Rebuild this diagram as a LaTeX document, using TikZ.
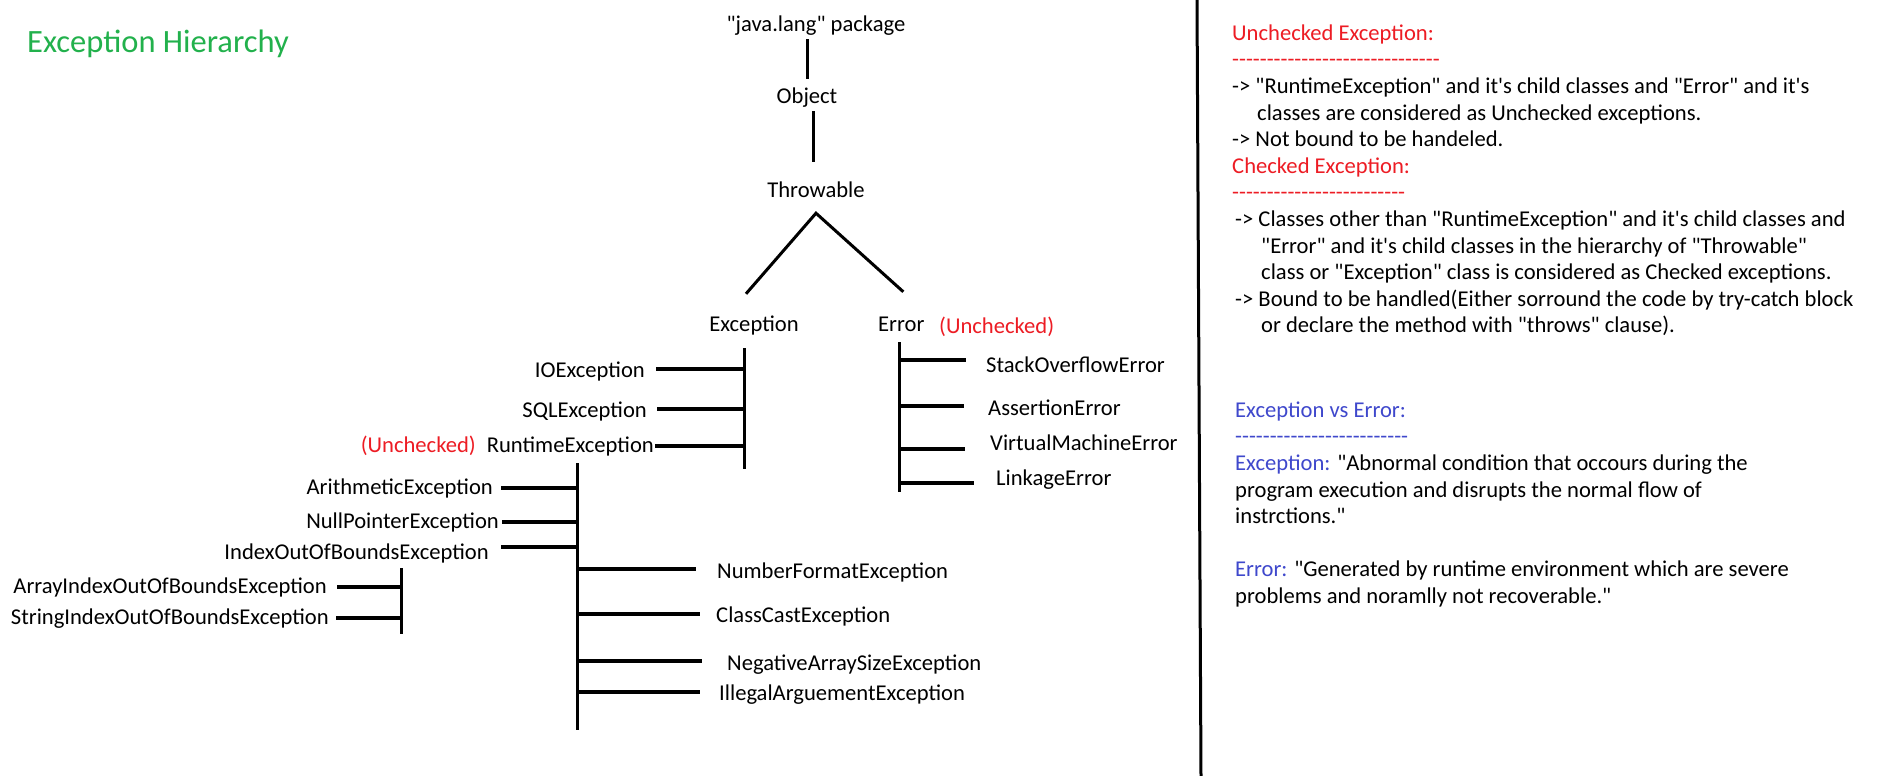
\documentclass[tikz,border=0pt]{standalone}
\usepackage{fontspec}
\setmainfont{Carlito}[Ligatures=TeXOff]

\definecolor{chkred}{HTML}{ED1C24}
\definecolor{hiergreen}{HTML}{22B14C}
\definecolor{vsblue}{HTML}{3F48CC}

\tikzset{
  cls/.style={inner sep=0pt, text height=16.5pt, text depth=3.5pt, font=\fontsize{22.6}{26.6}\selectfont},
  note/.style={inner sep=0pt, align=left, font=\fontsize{22.6}{26.6}\selectfont},
  bar/.style={line width=3pt},
  stub/.style={line width=3.5pt},
}

\begin{document}
\begin{tikzpicture}[x=1pt, y=-1pt]
\fill[white] (0,0) rectangle (1891,776);
\useasboundingbox (0,0) rectangle (1891,776);

% title
\node[inner sep=0pt, anchor=mid west, text=hiergreen, font=\fontsize{32.5}{38}\selectfont] (title) at (27,50) {Exception Hierarchy};

% top of the tree
\node[cls, anchor=center] (pkg) at (816,25) {"java.lang" package};
\node[cls, anchor=center] (obj) at (807,97) {Object};
\node[cls, anchor=center] (thr) at (816,191) {Throwable};
\node[cls, anchor=center] (exc) at (754,325) {Exception};
\node[cls, anchor=west] (err) at (878,325) {Error};
\node[cls, anchor=west, text=chkred] (errnote) at (939,327) {(Unchecked)};

\draw[bar] ([xshift=-9pt,yshift=-4pt]pkg.south) -- ([yshift=8pt]obj.north);
\draw[bar] ([xshift=6pt,yshift=-4pt]obj.south) -- ([xshift=-3pt,yshift=19pt]thr.north);
\draw[bar] ([xshift=-8pt,yshift=21pt]exc.north) -- ([yshift=-12pt]thr.south) -- ([xshift=2pt,yshift=23pt]err.north);

% Exception branch
\node[cls, anchor=east] (ioe) at (645,371) {IOException};
\node[cls, anchor=east] (sqle) at (647,411) {SQLException};
\node[cls, anchor=east] (rte) at (654,446) {RuntimeException};
\node[cls, anchor=east, text=chkred] (rtenote) at (476,446) {(Unchecked)};

\draw[bar] ([xshift=-10pt,yshift=-13pt]exc.south) -- ++(0,121) coordinate (excbot);
\draw[stub] ([xshift=11pt,yshift=2pt]ioe.east) -- ([yshift=2pt]ioe.east -| excbot);
\draw[stub] ([xshift=10pt,yshift=2pt]sqle.east) -- ([yshift=2pt]sqle.east -| excbot);
\draw[stub] ([xshift=1pt]rte.east) -- (rte.east -| excbot);

% RuntimeException branch
\node[cls, anchor=east] (arith) at (493,488) {ArithmeticException};
\node[cls, anchor=east] (npe) at (499,522) {NullPointerException};
\node[cls, anchor=east] (ioobe) at (489,553) {IndexOutOfBoundsException};
\node[cls, anchor=east] (aioobe) at (327,587) {ArrayIndexOutOfBoundsException};
\node[cls, anchor=east] (sioobe) at (329,618) {StringIndexOutOfBoundsException};
\node[cls, anchor=west] (nfe) at (717,572) {NumberFormatException};
\node[cls, anchor=west] (cce) at (716,616) {ClassCastException};
\node[cls, anchor=west] (nase) at (727,664) {NegativeArraySizeException};
\node[cls, anchor=west] (iae) at (719,694) {IllegalArguementException};

\draw[bar] ([xshift=-77pt,yshift=-7pt]rte.south east) -- ++(0,267) coordinate (rtebot);
\draw[stub] ([xshift=8pt]arith.east) -- (arith.east -| rtebot);
\draw[stub] ([xshift=3pt]npe.east) -- (npe.east -| rtebot);
\draw[stub] ([xshift=12pt,yshift=6pt]ioobe.east) -- ([yshift=6pt]ioobe.east -| rtebot);
\draw[stub] ([yshift=3pt]nfe.west -| rtebot) -- ([xshift=-21pt,yshift=3pt]nfe.west);
\draw[stub] ([yshift=2pt]cce.west -| rtebot) -- ([xshift=-16pt,yshift=2pt]cce.west);
\draw[stub] ([yshift=3pt]nase.west -| rtebot) -- ([xshift=-25pt,yshift=3pt]nase.west);
\draw[stub] ([yshift=2pt]iae.west -| rtebot) -- ([xshift=-19pt,yshift=2pt]iae.west);

\draw[bar] ([xshift=-88pt,yshift=-5pt]ioobe.south east) -- ++(0,66) coordinate (ioobebot);
\draw[stub] ([xshift=10pt]aioobe.east) -- (aioobe.east -| ioobebot);
\draw[stub] ([xshift=7pt]sioobe.east) -- (sioobe.east -| ioobebot);

% Error branch
\node[cls, anchor=west] (soe) at (986,366) {StackOverflowError};
\node[cls, anchor=west] (ase) at (988,409) {AssertionError};
\node[cls, anchor=west] (vme) at (990,444) {VirtualMachineError};
\node[cls, anchor=west] (lke) at (996,479) {LinkageError};

\draw[bar] ([xshift=-2pt,yshift=-7pt]err.south) -- ++(0,150) coordinate (errbot);
\draw[stub] ([yshift=6pt]soe.west -| errbot) -- ([xshift=-20pt,yshift=6pt]soe.west);
\draw[stub] ([yshift=3pt]ase.west -| errbot) -- ([xshift=-24pt,yshift=3pt]ase.west);
\draw[stub] ([yshift=-5pt]vme.west -| errbot) -- ([xshift=-25pt,yshift=-5pt]vme.west);
\draw[stub] ([yshift=-4pt]lke.west -| errbot) -- ([xshift=-22pt,yshift=-4pt]lke.west);

% divider
\draw[bar] (1197,0) -- (1201,776);

% notes
\node[note, anchor=north west] (unchk) at (1232,21.4) {\strut\textcolor{chkred}{Unchecked Exception:}\\
\textcolor{chkred}{------------------------------}\\
-> "RuntimeException" and it's child classes and "Error" and it's\\
\hspace*{25pt}classes are considered as Unchecked exceptions.\\
-> Not bound to be handeled.\\
\textcolor{chkred}{Checked Exception:}\\
\textcolor{chkred}{-------------------------}\\
\hspace*{3pt}-> Classes other than "RuntimeException" and it's child classes and\\
\hspace*{29pt}"Error" and it's child classes in the hierarchy of "Throwable"\\
\hspace*{29pt}class or "Exception" class is considered as Checked exceptions.\\
\hspace*{3pt}-> Bound to be handled(Either sorround the code by try-catch block\\
\hspace*{29pt}or declare the method with "throws" clause).};

\node[note, anchor=north west] (vs) at (1235,398.4) {\strut\textcolor{vsblue}{Exception vs Error:}\\
\textcolor{vsblue}{-------------------------}\\
\textcolor{vsblue}{Exception:} "Abnormal condition that occours during the\\
program execution and disrupts the normal flow of\\
instrctions."\\[26.6pt]
\textcolor{vsblue}{Error:} "Generated by runtime environment which are severe\\
problems and noramlly not recoverable."};
\end{tikzpicture}
\end{document}
